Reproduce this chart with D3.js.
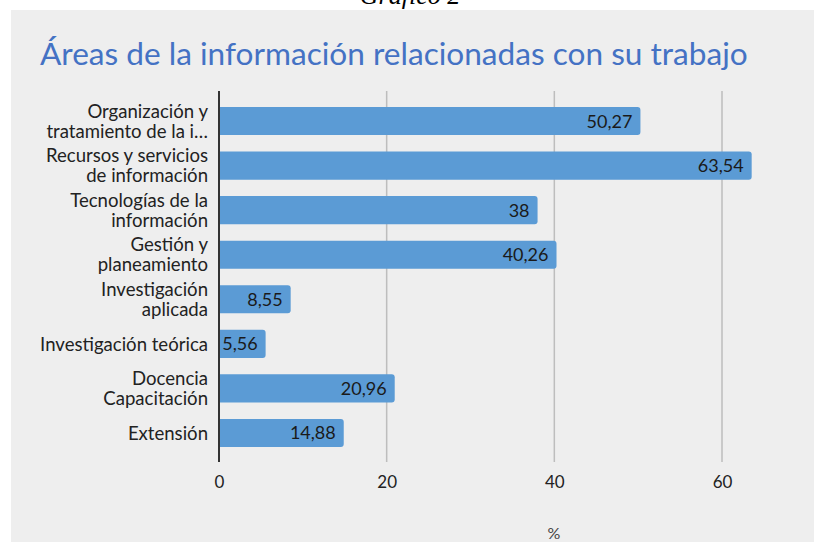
<!DOCTYPE html>
<html><head><meta charset="utf-8">
<script src="https://cdn.jsdelivr.net/npm/d3@7"></script>
<style>
html,body{margin:0;padding:0;background:#fff;}
svg{display:block;}
</style></head>
<body>
<script>
const categories = [
  ["Organización y","tratamiento de la i…"],
  ["Recursos y servicios","de información"],
  ["Tecnologías de la","información"],
  ["Gestión y","planeamiento"],
  ["Investigación","aplicada"],
  ["Investigación teórica"],
  ["Docencia","Capacitación"],
  ["Extensión"]
];
const values = [50.27, 63.54, 38, 40.26, 8.55, 5.56, 20.96, 14.88];
const valueLabels = ["50,27","63,54","38","40,26","8,55","5,56","20,96","14,88"];
const xTicks = [0, 20, 40, 60];
const title = "Áreas de la información relacionadas con su trabajo";
const axisTitle = "%";
const caption = "Gráfico 2";

const W = 814, H = 542;
const FONT = "Lato, 'Open Sans', sans-serif";
const svg = d3.select("body").append("svg").attr("width", W).attr("height", H);

// caption (cut off at top)
svg.append("text").attr("x", 410).attr("y", 4).attr("text-anchor","middle")
  .attr("font-family","'Liberation Serif', serif").attr("font-style","italic")
  .attr("font-size", 26).attr("fill","#000").text(caption);

// panel
svg.append("rect").attr("x", 11).attr("y", 10).attr("width", W-11).attr("height", H-10).attr("fill", "#eeeeee");

// title, fit width
const t = svg.append("text").attr("x", 40).attr("y", 65)
  .attr("font-family", FONT).attr("font-size", 28).attr("fill", "#4472c4").text(title);
const tw = t.node().getComputedTextLength();
t.attr("font-size", 28 * 708 / tw);

const x = d3.scaleLinear().domain([0, 60]).range([219, 722]);
const idx = d3.range(categories.length);
const y = d3.scaleBand().domain(idx).range([107, 447]).paddingInner(0.37).paddingOuter(0);

// gridlines
const gridTop = 91, gridBot = 462;
svg.append("g").selectAll("line").data(xTicks.filter(d => d > 0)).join("line")
  .attr("x1", d => x(d)).attr("x2", d => x(d)).attr("y1", gridTop).attr("y2", gridBot)
  .attr("stroke", "#bdbdbd").attr("stroke-width", 1.5);

// bars
svg.append("g").selectAll("path").data(idx).join("path")
  .attr("d", i => {
    const x0 = x(0), x1 = x(values[i]), y0 = y(i), h = y.bandwidth(), r = 3;
    return `M${x0},${y0}H${x1-r}Q${x1},${y0} ${x1},${y0+r}V${y0+h-r}Q${x1},${y0+h} ${x1-r},${y0+h}H${x0}Z`;
  })
  .attr("fill", "#5b9bd5");

// value labels
svg.append("g").selectAll("text").data(idx).join("text")
  .attr("x", i => x(values[i]) - 8).attr("y", i => y(i) + y.bandwidth()/2)
  .attr("dy", "0.36em").attr("text-anchor", "end")
  .attr("font-family", FONT).attr("font-size", 18).attr("fill", "#1a1a1a")
  .text(i => valueLabels[i]);

// category labels
const lab = svg.append("g").attr("font-family", FONT).attr("fill", "#222").attr("text-anchor", "end");
const labTexts = lab.selectAll("text").data(idx).join("text")
  .attr("font-size", 16)
  .attr("y", i => y(i) + y.bandwidth()/2);
labTexts.each(function(i){
  const lines = categories[i];
  const n = lines.length;
  d3.select(this).selectAll("tspan").data(lines).join("tspan")
    .attr("x", 208)
    .attr("y", (d, k) => y(i) + y.bandwidth()/2 + (k - (n-1)/2) * 20)
    .attr("dy", "0.36em")
    .text(d => d);
});
// fit label size to reference width of "Investigación teórica" (168px)
const ref = labTexts.filter(i => i === 5).node().getComputedTextLength();
labTexts.attr("font-size", 16 * 168 / ref);

// axis line
svg.append("line").attr("x1", x(0)).attr("x2", x(0)).attr("y1", gridTop).attr("y2", gridBot)
  .attr("stroke", "#333").attr("stroke-width", 2);

// x tick labels
const xAxis = d3.axisBottom(x).tickValues(xTicks).tickSize(0).tickPadding(0).tickFormat(d3.format("d"));
const gx = svg.append("g").attr("transform", `translate(0,488)`).call(xAxis);
gx.select(".domain").remove();
gx.selectAll("text").attr("font-family", FONT).attr("font-size", 17).attr("fill", "#222").attr("dy", 0);

// axis title
svg.append("text").attr("x", 554).attr("y", 539).attr("text-anchor", "middle")
  .attr("font-family", FONT).attr("font-size", 16).attr("fill", "#444").text(axisTitle);
</script>
</body></html>
